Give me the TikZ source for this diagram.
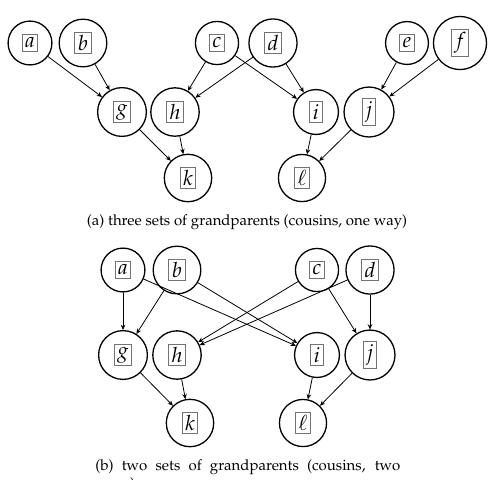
\documentclass[tikz,border=0pt]{standalone}
\usepackage[T1]{fontenc}
\usepackage{mathpazo}
\usepackage{tikz}
\usetikzlibrary{arrows.meta}
\setlength{\fboxsep}{1.2pt}
\setlength{\fboxrule}{0.5pt}
\newcommand{\lbl}[1]{\fcolorbox{black!55}{white}{$#1$}}
\newcommand{\person}[4]{\node[person] (#1) at (#2,#3) {\lbl{#4}};}
\tikzset{person/.style={circle,draw,line width=0.65pt,inner sep=3.5pt,font=\fontsize{10.5}{12}\selectfont},
  kin/.style={-{Stealth[length=2.6pt,width=2.3pt]},line width=0.4pt},
  capt/.style={inner sep=0pt,font=\fontsize{7.5}{9}\selectfont}}

\begin{document}
\begin{tikzpicture}[x=0.5pt,y=-0.5pt]
\useasboundingbox (0,0) rectangle (491,479);

% (a) three sets of grandparents
\person{A1}{30}{43}{a}
\person{B1}{83}{43}{b}
\person{C1}{217}{43}{c}
\person{D1}{273}{43}{d}
\person{E1}{407}{43}{e}
\person{F1}{460}{43}{f}
\person{G1}{122}{112}{g}
\person{H1}{175}{112}{h}
\person{I1}{316}{112}{i}
\person{J1}{369}{112}{j}
\person{K1}{188}{178}{k}
\person{L1}{302}{178}{\ell}
\foreach \p/\c in {A1/G1,B1/G1,C1/H1,D1/H1,C1/I1,D1/I1,E1/J1,F1/J1,G1/K1,H1/K1,I1/L1,J1/L1}
  \draw[kin] (\p) -- (\c);
\node[capt] (capA) at (247,222) {(a)~three sets of grandparents (cousins, one way)};

% (b) two sets of grandparents
\person{A2}{123}{270}{a}
\person{B2}{177}{270}{b}
\person{C2}{317}{270}{c}
\person{D2}{370}{270}{d}
\person{G2}{123}{355}{g}
\person{H2}{177}{355}{h}
\person{I2}{317}{355}{i}
\person{J2}{370}{355}{j}
\person{K2}{190}{423}{k}
\person{L2}{303}{423}{\ell}
\foreach \p/\c in {A2/G2,B2/G2,A2/I2,B2/I2,C2/H2,D2/H2,C2/J2,D2/J2,G2/K2,H2/K2,I2/L2,J2/L2}
  \draw[kin] (\p) -- (\c);
\node[capt,anchor=north west,text width=152.5pt,align=justify] (capB) at (95,459)
  {(b)~two sets of grandparents (cousins, two\linebreak ways)};
\end{tikzpicture}
\end{document}
